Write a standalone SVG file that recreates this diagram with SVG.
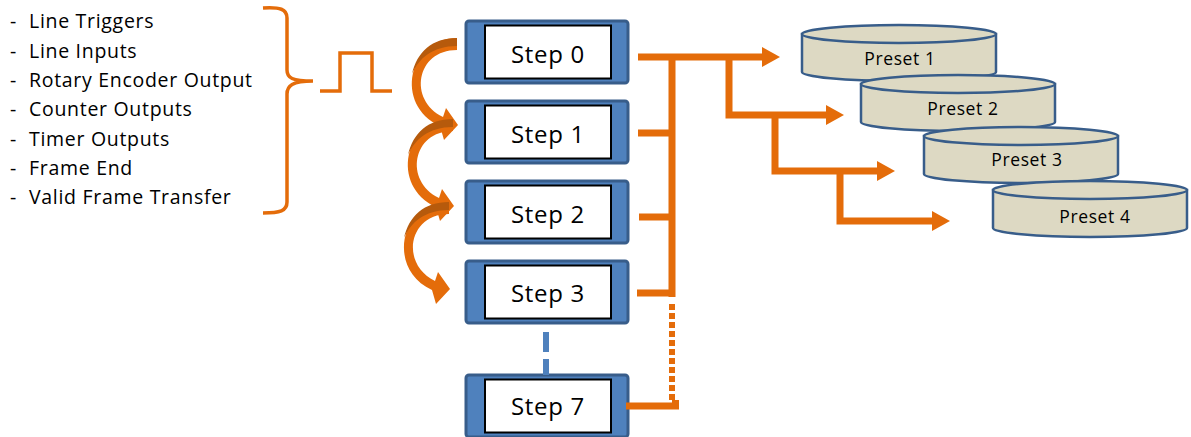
<svg xmlns="http://www.w3.org/2000/svg" width="1191" height="437" viewBox="0 0 1191 437">
<style>
.lst{font-family:"Open Sans","Liberation Sans",sans-serif;font-size:19.5px;letter-spacing:0.7px;fill:#000}
.box{fill:#4F81BD;stroke:#385D8A;stroke-width:3}
.inner{fill:#fff;stroke:#000;stroke-width:2}
.stxt{font-family:"Open Sans","Liberation Sans",sans-serif;font-size:24px;letter-spacing:0.7px;fill:#000;text-anchor:middle}
.cyl{fill:#DDD9C3;stroke:#385D8A;stroke-width:2.5}
.ptxt{font-family:"Open Sans","Liberation Sans",sans-serif;font-size:17.5px;letter-spacing:0.6px;fill:#000;text-anchor:middle}
.or{fill:none;stroke:#E46C0A;stroke-width:7}
.orf{fill:#E46C0A}
.ord{fill:#B65A0C}
</style>
<rect width="1191" height="437" fill="#fff"/>
<g id="sources">
<text class="lst" x="10" y="28">-</text><text class="lst" x="29" y="28">Line Triggers</text>
<text class="lst" x="10" y="57.5">-</text><text class="lst" x="29" y="57.5">Line Inputs</text>
<text class="lst" x="10" y="87">-</text><text class="lst" x="29" y="87">Rotary Encoder Output</text>
<text class="lst" x="10" y="116">-</text><text class="lst" x="29" y="116">Counter Outputs</text>
<text class="lst" x="10" y="145.5">-</text><text class="lst" x="29" y="145.5">Timer Outputs</text>
<text class="lst" x="10" y="175">-</text><text class="lst" x="29" y="175">Frame End</text>
<text class="lst" x="10" y="204">-</text><text class="lst" x="29" y="204">Valid Frame Transfer</text>
</g>
<g id="brace">
<path d="M263 8 C280 7 287 9 287 18 L287 70 C287 78 292 81 313 81 M313 81 C292 81 287 86 287 94 L287 202 C287 211 280 213 263 213" fill="none" stroke="#E46C0A" stroke-width="3.5"/>
</g>
<g id="pulse">
<path d="M320 91 L340 91 L340 53 L372 53 L372 91 L392 91" fill="none" stroke="#E46C0A" stroke-width="3.5"/>
</g>
<g id="step0"><rect class="box" x="466" y="21" width="162" height="62" rx="3"/><rect class="inner" x="485" y="25.5" width="126" height="53"/><text class="stxt" x="548" y="63">Step 0</text></g>
<g id="step1"><rect class="box" x="466" y="101" width="162" height="62" rx="3"/><rect class="inner" x="485" y="105.5" width="126" height="53"/><text class="stxt" x="548" y="143">Step 1</text></g>
<g id="step2"><rect class="box" x="466" y="181" width="162" height="62" rx="3"/><rect class="inner" x="485" y="185.5" width="126" height="53"/><text class="stxt" x="548" y="223">Step 2</text></g>
<g id="step3"><rect class="box" x="466" y="261" width="162" height="62" rx="3"/><rect class="inner" x="485" y="265.5" width="126" height="53"/><text class="stxt" x="548" y="302">Step 3</text></g>
<g id="step7"><rect class="box" x="466" y="375" width="162" height="62" rx="3"/><rect class="inner" x="485" y="379.5" width="126" height="53"/><text class="stxt" x="548" y="415">Step 7</text></g>
<g id="preset1"><path class="cyl" d="M802 34 V72 A97 9 0 0 0 996 72 V34 Z"/><ellipse class="cyl" cx="899" cy="34" rx="97" ry="9"/><text class="ptxt" x="900" y="65">Preset 1</text></g>
<g id="preset2"><path class="cyl" d="M861 84 V122 A97 9 0 0 0 1055 122 V84 Z"/><ellipse class="cyl" cx="958" cy="84" rx="97" ry="9"/><text class="ptxt" x="963" y="115">Preset 2</text></g>
<g id="preset3"><path class="cyl" d="M924 136 V174 A97 9 0 0 0 1118 174 V136 Z"/><ellipse class="cyl" cx="1021" cy="136" rx="97" ry="9"/><text class="ptxt" x="1027" y="166">Preset 3</text></g>
<g id="preset4"><path class="cyl" d="M993 190 V228 A97 9 0 0 0 1187 228 V190 Z"/><ellipse class="cyl" cx="1090" cy="190" rx="97" ry="9"/><text class="ptxt" x="1095" y="223">Preset 4</text></g>
<g id="connectors">
<defs>
<g id="carrow">
<path class="orf" d="M457 38 C408 38 394 105 440 126 L444 140 L458 125 L446 108 L443 117 C408 100 416 50 457 50 Z"/>
<path class="ord" d="M457 38 C432 38 417 52 412 74 C419 58 433 46 457 46 Z"/>
</g>
</defs>
<use href="#carrow"/>
<use href="#carrow" transform="translate(-4,81)"/>
<use href="#carrow" transform="translate(-8,164)"/>
<path d="M546 324 V375" fill="none" stroke="#4F81BD" stroke-width="6" stroke-dasharray="0 8 20 7 20"/>
<path class="or" d="M638 57 H765"/>
<polygon class="orf" points="762,47 780,57 762,67"/>
<path class="or" d="M672 57 V297"/>
<path class="or" d="M638 133 H672 M639 217 H672 M637 293 H672"/>
<path d="M672 304 V402" fill="none" stroke="#E46C0A" stroke-width="6" stroke-dasharray="6 3"/>
<path class="or" d="M626 406 H675.5 V400"/>
<path class="or" d="M729 57 V115 H830"/>
<polygon class="orf" points="826,105 844,115 826,125"/>
<path class="or" d="M775 115 V171 H880"/>
<polygon class="orf" points="877,161 895,171 877,181"/>
<path class="or" d="M840 171 V221 H935"/>
<polygon class="orf" points="932,211 950,221 932,231"/>
</g>
</svg>
